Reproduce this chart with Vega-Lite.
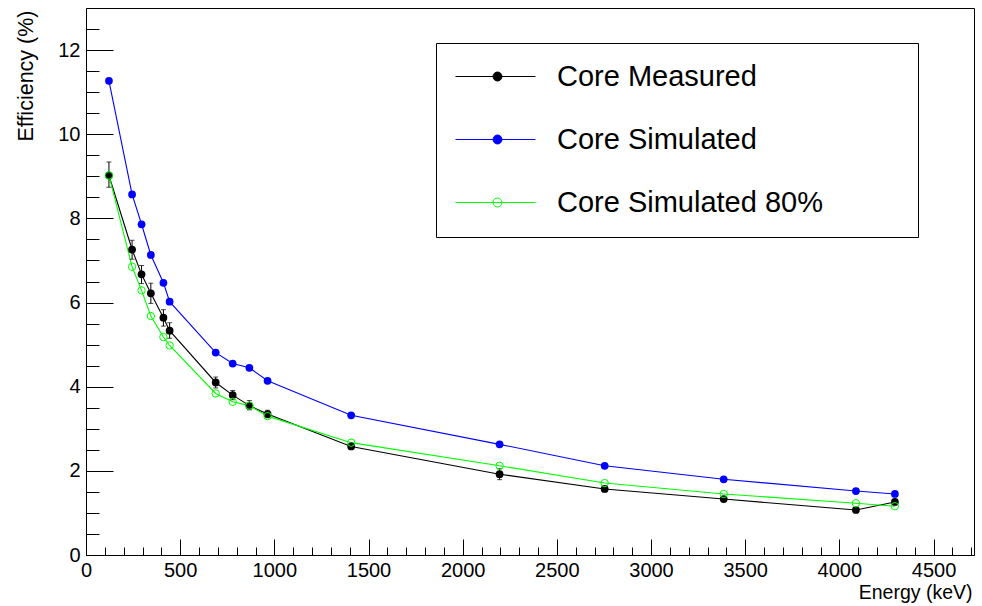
{
  "$schema": "https://vega.github.io/schema/vega-lite/v6.json",
  "width": 888,
  "height": 547,
  "autosize": "none",
  "padding": {"left": 86, "top": 8, "right": 8, "bottom": 51},
  "background": "white",
  "config": {
    "font": "Liberation Sans",
    "view": {"stroke": "#000000", "strokeWidth": 1},
    "axis": {
      "domainColor": "#000000",
      "tickColor": "#000000",
      "labelColor": "#000000",
      "titleColor": "#000000",
      "grid": false,
      "labelFontSize": 20,
      "labelFont": "Liberation Sans",
      "titleFont": "Liberation Sans",
      "titleFontWeight": "normal",
      "labelFlush": false,
      "labelOverlap": false
    }
  },
  "data": {
    "values": [
      {"E": 121.8, "eff": 9.02, "lo": 8.74, "hi": 9.34, "s": "Core Measured"},
      {"E": 244.7, "eff": 7.26, "lo": 7.03, "hi": 7.48, "s": "Core Measured"},
      {"E": 295.0, "eff": 6.67, "lo": 6.45, "hi": 6.88, "s": "Core Measured"},
      {"E": 344.3, "eff": 6.22, "lo": 5.98, "hi": 6.46, "s": "Core Measured"},
      {"E": 411.1, "eff": 5.64, "lo": 5.44, "hi": 5.83, "s": "Core Measured"},
      {"E": 444.0, "eff": 5.33, "lo": 5.15, "hi": 5.52, "s": "Core Measured"},
      {"E": 688.7, "eff": 4.10, "lo": 3.97, "hi": 4.23, "s": "Core Measured"},
      {"E": 778.9, "eff": 3.80, "lo": 3.69, "hi": 3.91, "s": "Core Measured"},
      {"E": 867.4, "eff": 3.55, "lo": 3.45, "hi": 3.67, "s": "Core Measured"},
      {"E": 964.1, "eff": 3.35, "lo": 3.26, "hi": 3.44, "s": "Core Measured"},
      {"E": 1408.0, "eff": 2.58, "lo": 2.53, "hi": 2.63, "s": "Core Measured"},
      {"E": 2196.0, "eff": 1.92, "lo": 1.79, "hi": 2.05, "s": "Core Measured"},
      {"E": 2754.0, "eff": 1.57, "lo": 1.50, "hi": 1.64, "s": "Core Measured"},
      {"E": 3386.0, "eff": 1.33, "lo": 1.27, "hi": 1.39, "s": "Core Measured"},
      {"E": 4088.0, "eff": 1.07, "lo": 1.02, "hi": 1.12, "s": "Core Measured"},
      {"E": 4295.0, "eff": 1.26, "lo": 1.21, "hi": 1.31, "s": "Core Measured"},
      {"E": 121.8, "eff": 11.27, "s": "Core Simulated"},
      {"E": 244.7, "eff": 8.57, "s": "Core Simulated"},
      {"E": 295.0, "eff": 7.86, "s": "Core Simulated"},
      {"E": 344.3, "eff": 7.13, "s": "Core Simulated"},
      {"E": 411.1, "eff": 6.47, "s": "Core Simulated"},
      {"E": 444.0, "eff": 6.02, "s": "Core Simulated"},
      {"E": 688.7, "eff": 4.81, "s": "Core Simulated"},
      {"E": 778.9, "eff": 4.55, "s": "Core Simulated"},
      {"E": 867.4, "eff": 4.45, "s": "Core Simulated"},
      {"E": 964.1, "eff": 4.14, "s": "Core Simulated"},
      {"E": 1408.0, "eff": 3.32, "s": "Core Simulated"},
      {"E": 2196.0, "eff": 2.63, "s": "Core Simulated"},
      {"E": 2754.0, "eff": 2.12, "s": "Core Simulated"},
      {"E": 3386.0, "eff": 1.80, "s": "Core Simulated"},
      {"E": 4088.0, "eff": 1.52, "s": "Core Simulated"},
      {"E": 4295.0, "eff": 1.45, "s": "Core Simulated"},
      {"E": 121.8, "eff": 9.02, "s": "Core Simulated 80%"},
      {"E": 244.7, "eff": 6.85, "s": "Core Simulated 80%"},
      {"E": 295.0, "eff": 6.29, "s": "Core Simulated 80%"},
      {"E": 344.3, "eff": 5.68, "s": "Core Simulated 80%"},
      {"E": 411.1, "eff": 5.18, "s": "Core Simulated 80%"},
      {"E": 444.0, "eff": 4.98, "s": "Core Simulated 80%"},
      {"E": 688.7, "eff": 3.84, "s": "Core Simulated 80%"},
      {"E": 778.9, "eff": 3.64, "s": "Core Simulated 80%"},
      {"E": 867.4, "eff": 3.55, "s": "Core Simulated 80%"},
      {"E": 964.1, "eff": 3.30, "s": "Core Simulated 80%"},
      {"E": 1408.0, "eff": 2.67, "s": "Core Simulated 80%"},
      {"E": 2196.0, "eff": 2.12, "s": "Core Simulated 80%"},
      {"E": 2754.0, "eff": 1.71, "s": "Core Simulated 80%"},
      {"E": 3386.0, "eff": 1.45, "s": "Core Simulated 80%"},
      {"E": 4088.0, "eff": 1.23, "s": "Core Simulated 80%"},
      {"E": 4295.0, "eff": 1.16, "s": "Core Simulated 80%"}
    ]
  },
  "resolve": {"axis": {"x": "independent", "y": "independent"}},
  "layer": [
    {
      "mark": {"type": "line", "strokeWidth": 1.1},
      "encoding": {
        "x": {
          "field": "E", "type": "quantitative",
          "scale": {"domain": [0, 4715], "nice": false, "zero": false},
          "axis": {
            "orient": "bottom",
            "values": [0, 500, 1000, 1500, 2000, 2500, 3000, 3500, 4000, 4500],
            "format": "d",
            "tickSize": -16,
            "labelPadding": 21,
            "title": "Energy (keV)",
            "titleFontSize": 19.5,
            "titleAnchor": "end",
            "titleAlign": "right",
            "titleBaseline": "alphabetic",
            "titleX": 886,
            "titleY": 43
          }
        },
        "y": {
          "field": "eff", "type": "quantitative",
          "scale": {"domain": [0, 13], "nice": false},
          "axis": {
            "orient": "left",
            "values": [0, 2, 4, 6, 8, 10, 12],
            "format": "d",
            "tickSize": -27,
            "labelPadding": 33,
            "title": "Efficiency (%)",
            "titleFontSize": 21.5,
            "titleAngle": 270,
            "titleAlign": "right",
            "titleBaseline": "alphabetic",
            "titleX": -54,
            "titleY": 2
          }
        },
        "color": {
          "field": "s", "type": "nominal",
          "scale": {
            "domain": ["Core Measured", "Core Simulated", "Core Simulated 80%"],
            "range": ["#000000", "#0000ff", "#00ff00"]
          },
          "legend": {
            "orient": "none",
            "legendX": 350,
            "legendY": 35,
            "title": "\u00a0",
            "titleOrient": "right",
            "titleFontSize": 1,
            "titlePadding": 76,
            "strokeColor": "#000000",
            "fillColor": "#ffffff",
            "padding": 19,
            "rowPadding": 33,
            "symbolType": "M-1,0H4.714M1.679,0A0.321,0.321,0,1,1,2.321,0A0.321,0.321,0,1,1,1.679,0Z",
            "symbolSize": 784,
            "symbolStrokeWidth": 1,
            "labelFontSize": 29,
            "labelFont": "Liberation Sans",
            "labelColor": "#000000",
            "labelOffset": 73,
            "labelLimit": 600,
            "encode": {
              "symbols": {
                "update": {
                  "fill": {"signal": "datum.value === 'Core Simulated 80%' ? '#ffffff' : (datum.value === 'Core Simulated' ? '#0000ff' : '#000000')"},
                  "fillOpacity": {"value": 1}
                }
              }
            }
          }
        },
        "order": {"field": "E", "type": "quantitative"}
      }
    },
    {
      "transform": [{"filter": "datum.s === 'Core Measured'"}],
      "mark": {"type": "rule", "color": "#000000", "strokeWidth": 1},
      "encoding": {
        "x": {
          "field": "E", "type": "quantitative",
          "axis": {
            "orient": "bottom",
            "values": [100, 200, 300, 400, 600, 700, 800, 900, 1100, 1200, 1300, 1400, 1600, 1700, 1800, 1900, 2100, 2200, 2300, 2400, 2600, 2700, 2800, 2900, 3100, 3200, 3300, 3400, 3600, 3700, 3800, 3900, 4100, 4200, 4300, 4400, 4600, 4700],
            "tickSize": -8,
            "labels": false,
            "domain": false,
            "title": null
          }
        },
        "y": {
          "field": "lo", "type": "quantitative",
          "axis": {
            "orient": "left",
            "values": [0.5, 1, 1.5, 2.5, 3, 3.5, 4.5, 5, 5.5, 6.5, 7, 7.5, 8.5, 9, 9.5, 10.5, 11, 11.5, 12.5],
            "tickSize": -13,
            "labels": false,
            "domain": false,
            "title": null
          }
        },
        "y2": {"field": "hi"}
      }
    },
    {
      "transform": [{"filter": "datum.s === 'Core Measured'"}],
      "mark": {"type": "tick", "orient": "horizontal", "color": "#000000", "size": 5, "thickness": 1},
      "encoding": {
        "x": {"field": "E", "type": "quantitative", "axis": null},
        "y": {"field": "lo", "type": "quantitative", "axis": null}
      }
    },
    {
      "transform": [{"filter": "datum.s === 'Core Measured'"}],
      "mark": {"type": "tick", "orient": "horizontal", "color": "#000000", "size": 5, "thickness": 1},
      "encoding": {
        "x": {"field": "E", "type": "quantitative", "axis": null},
        "y": {"field": "hi", "type": "quantitative", "axis": null}
      }
    },
    {
      "transform": [{"filter": "datum.s === 'Core Measured'"}],
      "mark": {"type": "point", "shape": "circle", "filled": true, "size": 60, "opacity": 1, "color": "#000000"},
      "encoding": {
        "x": {"field": "E", "type": "quantitative", "axis": null},
        "y": {"field": "eff", "type": "quantitative", "axis": null}
      }
    },
    {
      "transform": [{"filter": "datum.s === 'Core Simulated'"}],
      "mark": {"type": "point", "shape": "circle", "filled": true, "size": 60, "opacity": 1, "color": "#0000ff"},
      "encoding": {
        "x": {"field": "E", "type": "quantitative", "axis": null},
        "y": {"field": "eff", "type": "quantitative", "axis": null}
      }
    },
    {
      "transform": [{"filter": "datum.s === 'Core Simulated 80%'"}],
      "mark": {"type": "point", "shape": "circle", "filled": false, "size": 55, "strokeWidth": 1, "opacity": 1, "color": "#00ff00"},
      "encoding": {
        "x": {"field": "E", "type": "quantitative", "axis": null},
        "y": {"field": "eff", "type": "quantitative", "axis": null}
      }
    }
  ]
}
